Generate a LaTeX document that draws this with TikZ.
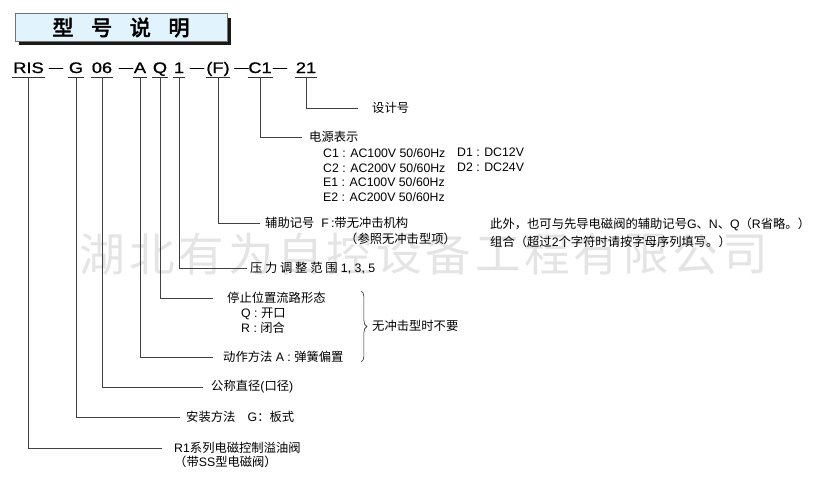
\documentclass[tikz,border=0pt]{standalone}
\usepackage{fontspec}
\setmainfont{Liberation Sans}
\newfontfamily\zh{Noto Sans CJK SC}
\newfontfamily\zhbold[FakeBold=3]{Noto Sans CJK SC}
\newfontfamily\codefont[FakeStretch=1.2,FakeBold=1]{Liberation Sans}
\usetikzlibrary{positioning,shadows,decorations.pathreplacing}
\definecolor{titlefill}{HTML}{E1F3FC}
\definecolor{mark}{HTML}{E4E4E4}

\begin{document}
\begin{tikzpicture}[x=0.3mm,y=-0.3mm,
  code/.style={font=\codefont\fontsize{13}{15}\selectfont,inner xsep=0.5pt,inner ysep=3.4pt,text depth=0pt,anchor=base},
  hyph/.style={font=\codefont\fontsize{10}{12}\selectfont,inner sep=0pt,anchor=base},
  lbl/.style={font=\fontsize{10.5}{12.5}\selectfont,inner sep=0pt,anchor=west,align=left},
  lead/.style={draw=black!75,line width=0.6pt},
  uline/.style={draw=black!80,line width=0.6pt}]
\useasboundingbox (0,0) rectangle (837,490);

% watermark
\foreach \ch [count=\i] in {湖,北,有,为,自,控,设,备,工,程,有,限,公,司}
  \node[font=\zh\fontsize{39}{40}\selectfont,text=mark,inner sep=0pt] (wm\i) at (53.3+49.4*\i,254) {\ch};

% title
\node[draw=black!55,line width=0.8pt,fill=titlefill,minimum width=181pt,minimum height=23pt,
  drop shadow={shadow xshift=3.4pt,shadow yshift=-3.4pt,fill=black!90,opacity=1}] (title) at (121,27.5)
  {\zhbold\fontsize{18}{20}\selectfont 型\hspace{15pt}号\hspace{15pt}说\hspace{15pt}明};

% model code
\foreach \n/\x/\t in {RIS/28.5/RIS, G/76/G, 06/102/06, A/140/A, Q/160/Q, 1/179/1, F/218/(F), C/260/C1, 21/306/21}{
  \node[code] (c\n) at (\x,73) {\t};
  \draw[uline] (c\n.south west) -- (c\n.south east);
}
\foreach \x [count=\i] in {56,126,197,241.5,280}
  \node[hyph] (d\i) at (\x,71.5) {—};

% labels
\node[lbl] (l21) at (372,108) {\zh 设计号};
\node[lbl] (lC) at (309,137) {\zh 电源表示};
\node[lbl] (lCb) at (323,175) {C1 : AC100V 50/60Hz\\C2 : AC200V 50/60Hz\\E1 : AC100V 50/60Hz\\E2 : AC200V 50/60Hz};
\node[lbl] (lD) at (457,160) {D1 : DC12V\\D2 : DC24V};
\node[lbl] (lF) at (265,223) {{\zh 辅助记号}\hspace{6pt}F\,:{\zh 带无冲击机构}};
\node[lbl] (lFb) at (345,239) {\zh （参照无冲击型项）};
\node[lbl,font=\fontsize{10.5}{15.4}\selectfont] (lNote) at (490,233)
  {{\zh 此外，也可与先导电磁阀的辅助记号}G{\zh 、}N{\zh 、}Q{\zh （}R{\zh 省略。）}\\{\zh 组合（超过}2{\zh 个字符时请按字母序列填写。）}};
\node[lbl] (l1) at (250,268) {{\zh\addfontfeature{LetterSpace=22}压力调整范围}\ 1, 3, 5};
\node[lbl] (lQ) at (227,298) {\zh 停止位置流路形态};
\node[lbl,font=\fontsize{10.5}{12.8}\selectfont] (lQb) at (241,320.5) {Q : {\zh 开口}\\R : {\zh 闭合}};
\node[lbl] (lA) at (223,357) {{\zh 动作方法}\ A : {\zh 弹簧偏置}};
\node[lbl] (lBr) at (372,326) {\zh 无冲击型时不要};
\node[lbl] (l06) at (211,387) {{\zh 公称直径}({\zh 口径})};
\node[lbl] (lG) at (186,417) {{\zh 安装方法　}G{\zh ：板式}};
\node[lbl] (lR1) at (174,448) {R1{\zh 系列电磁控制溢油阀}};
\node[lbl] (lR1b) at (174,462) {{\zh （带}SS{\zh 型电磁阀）}};

% leaders
\draw[lead] (c21.south) |- ([xshift=-12pt]l21.west);
\draw[lead] (cC.south) |- ([xshift=-6pt]lC.west);
\draw[lead] (cF.south) |- ([xshift=-4.3pt]lF.west);
\draw[lead] (c1.south) |- ([xshift=-2.6pt]l1.west);
\draw[lead] (cQ.south) |- ([xshift=-12pt]lQ.west);
\draw[lead] (cA.south) |- ([xshift=-8.5pt]lA.west);
\draw[lead] (c06.south) |- ([xshift=-7pt]l06.west);
\draw[lead] (cG.south) |- ([xshift=-5pt]lG.west);
\draw[lead] (cRIS.south) |- ([xshift=-10pt]lR1.west);

% brace
\draw[draw=black!85,line width=0.5pt,decorate,decoration={brace,amplitude=5pt}] (361,291) -- (361,362);
\end{tikzpicture}
\end{document}
